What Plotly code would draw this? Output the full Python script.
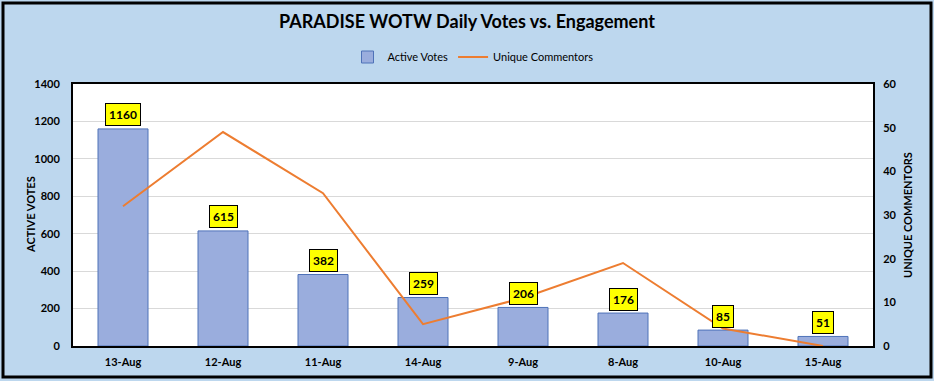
import plotly.graph_objects as go

categories = ["13-Aug", "12-Aug", "11-Aug", "14-Aug", "9-Aug", "8-Aug", "10-Aug", "15-Aug"]
active_votes = [1160, 615, 382, 259, 206, 176, 85, 51]
unique_commentors = [32, 49, 35, 5, 11, 19, 4, 0]

W, H = 934, 381
ML, MR, MT, MB = 73, 61, 84, 35
FONT = "Lato"

fig = go.Figure()
fig.add_trace(go.Bar(
    x=categories, y=active_votes, name="Active Votes", width=0.5,
    marker=dict(color="#9AADDD", line=dict(color="#4F72B8", width=1)),
    yaxis="y",
))
fig.add_trace(go.Scatter(
    x=categories, y=unique_commentors, name="Unique Commentors",
    mode="lines", line=dict(color="#ED7D31", width=2), yaxis="y2",
))

for c, v in zip(categories, active_votes):
    fig.add_annotation(x=c, y=v, xref="x", yref="y", text="<b>%d</b>" % v,
                       showarrow=False, yshift=14, bgcolor="#FFFF00",
                       bordercolor="#000000", borderwidth=1, borderpad=3,
                       font=dict(family=FONT, size=12, color="#000000"))

pw = W - ML - MR
ph = H - MT - MB

# axis titles placed in the margins
fig.add_annotation(x=(30 - ML) / pw, y=0.5, xref="paper", yref="paper",
                   text="<b>ACTIVE VOTES</b>", textangle=-90, showarrow=False,
                   xanchor="center", yanchor="middle",
                   font=dict(family=FONT, size=11, color="#000000"))
fig.add_annotation(x=(907 - ML) / pw, y=0.5, xref="paper", yref="paper",
                   text="<b>UNIQUE COMMENTORS</b>", textangle=-90, showarrow=False,
                   xanchor="center", yanchor="middle",
                   font=dict(family=FONT, size=11, color="#000000"))

fig.add_shape(type="rect", xref="paper", yref="paper",
              x0=(3 - ML) / pw, x1=(931 - ML) / pw,
              y0=-(377 - MT - ph) / ph, y1=(H - 3 - MB) / ph,
              line=dict(color="#000000", width=3), layer="below")

fig.update_layout(
    width=W, height=H,
    margin=dict(l=ML, r=MR, t=MT, b=MB, autoexpand=False),
    paper_bgcolor="#BDD7EE", plot_bgcolor="#FFFFFF",
    font=dict(family=FONT, size=11, color="#000000"),
    title=dict(text="<b>PARADISE WOTW Daily Votes vs. Engagement</b>",
               x=0.5, xanchor="center", y=1 - 22 / H, yanchor="middle",
               font=dict(family=FONT, size=18, color="#000000")),
    legend=dict(orientation="h", x=0.5, xanchor="center", y=1 + (MT - 57) / ph,
                yanchor="middle", bgcolor="rgba(0,0,0,0)",
                font=dict(family=FONT, size=11)),
    xaxis=dict(showgrid=False, showline=True, linecolor="#000000", linewidth=2,
               mirror=True, ticks="", automargin=False, ticklabelstandoff=5,
               tickfont=dict(family=FONT, size=11)),
    yaxis=dict(range=[0, 1400], dtick=200, showgrid=True, gridcolor="#D9D9D9",
               showline=True, linecolor="#000000", linewidth=2, zeroline=False,
               automargin=False, ticklabelstandoff=9,
               tickfont=dict(family=FONT, size=11)),
    yaxis2=dict(range=[0, 60], dtick=10, overlaying="y", side="right",
                showgrid=False, showline=True, linecolor="#000000", linewidth=2,
                zeroline=False, automargin=False, ticklabelstandoff=6,
                tickfont=dict(family=FONT, size=11)),
)
fig.update_xaxes(tickprefix="<b>", ticksuffix="</b>")
fig.update_yaxes(tickprefix="<b>", ticksuffix="</b>", ticklen=0)

fig.write_html("out.html", config={"displayModeBar": False},
               post_script="document.body.style.margin='0';")
